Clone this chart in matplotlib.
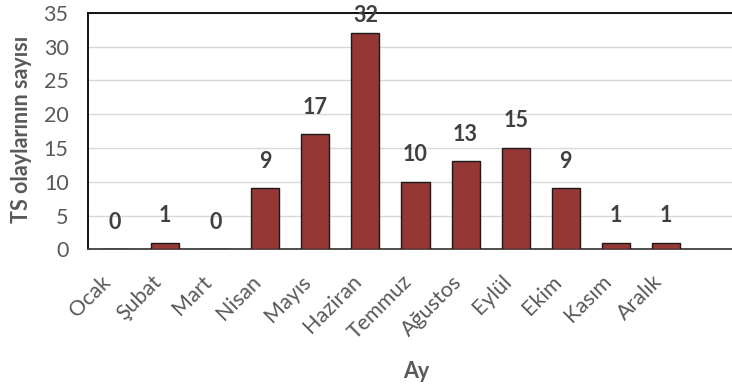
import matplotlib
matplotlib.use("Agg")
import matplotlib.pyplot as plt

# Monthly counts of TS events
months = ["Ocak", "Şubat", "Mart", "Nisan", "Mayıs", "Haziran",
          "Temmuz", "Ağustos", "Eylül", "Ekim", "Kasım", "Aralık"]
counts = [0, 1, 0, 9, 17, 32, 10, 13, 15, 9, 1, 1]
y_ticks = [0, 5, 10, 15, 20, 25, 30, 35]

plt.rcParams['font.family'] = ['Lato', 'DejaVu Sans']

fig = plt.figure(figsize=(7.32, 3.88), dpi=100)
ax = fig.add_axes([88 / 732, (388 - 249.3) / 388, 1 - 88 / 732, 236.6 / 388])

x = list(range(len(months)))
ax.bar(x, counts, width=0.56, color="#953735", edgecolor="#1a1a1a",
       linewidth=1.0, zorder=3)

ax.set_ylim(0, 35)
ax.set_xlim(-0.54, 12.32)
ax.set_yticks(y_ticks)
ax.yaxis.grid(True, color="#d9d9d9", linewidth=1.0, zorder=0)
ax.set_axisbelow(True)

ax.tick_params(axis="y", length=0, pad=14, labelsize=15.5, labelcolor="#595959")
ax.tick_params(axis="x", length=0, pad=16, labelsize=15.5, labelcolor="#595959")
ax.set_xticks(x)
ax.set_xticklabels(months, rotation=45, ha="right", va="top")

for side in ["top", "left"]:
    ax.spines[side].set_color("#000000")
    ax.spines[side].set_linewidth(1.3)
ax.spines["bottom"].set_color("#404040")
ax.spines["bottom"].set_linewidth(1.3)
ax.spines["right"].set_visible(False)

# value labels above each bar, kept inside the frame for the tallest one
for xi, v in zip(x, counts):
    off = 12 if v < 30 else 5
    ax.annotate(str(v), (xi, v), xytext=(0, off), textcoords="offset points",
                ha="center", va="bottom", fontsize=15.5, fontweight="bold",
                color="#404040", zorder=4)

fig.text(22 / 732, 1 - 129 / 388, "TS olaylarının sayısı", rotation=90,
         ha="center", va="center", fontsize=15.5, fontweight="bold",
         color="#595959")
fig.text(416 / 732, 1 - 372 / 388, "Ay", ha="center", va="center",
         fontsize=15.5, fontweight="bold", color="#595959")

fig.savefig("out.png", dpi=100)
